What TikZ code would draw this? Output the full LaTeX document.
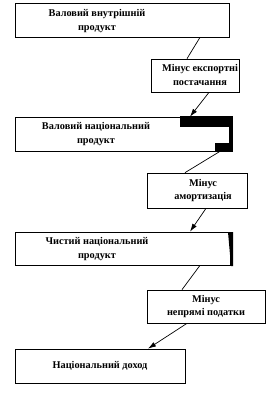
\documentclass[tikz,border=0pt]{standalone}
\usepackage{fontspec}
\setmainfont{Liberation Serif}
\usetikzlibrary{arrows.meta}
\begin{document}
\begin{tikzpicture}[x=1pt,y=-1pt,
  box/.style={draw,line width=0.7pt,inner sep=0pt,rectangle},
  lbl/.style={font=\bfseries\fontsize{10.3}{13.5}\selectfont,align=center,inner sep=0pt},
  conn/.style={line width=0.7pt},
  arr/.style={line width=0.7pt,-{Latex[length=8pt,width=5pt]}}]
\useasboundingbox[fill=white] (0,0) rectangle (276,393);
% boxes
\node[box,minimum width=214pt,minimum height=34pt] (b1) at (122,20) {};
\node[box,minimum width=88pt,minimum height=33pt] (b2) at (195,75.5) {};
\node[box,minimum width=215pt,minimum height=34pt] (b3) at (122.5,134) {};
\node[box,minimum width=100pt,minimum height=35pt] (b4) at (197,190.5) {};
\node[box,minimum width=215pt,minimum height=33pt] (b5) at (122.5,248.5) {};
\node[box,minimum width=118pt,minimum height=33pt] (b6) at (206,306.5) {};
\node[box,minimum width=170pt,minimum height=34pt] (b7) at (100,366) {};
% dark scan marks
\fill (180,116) rectangle (233,127);
\fill (229,127) rectangle (233,151);
\fill (215,143) rectangle (233,152);
\fill (228,232) -- (233,232) -- (233,266) -- (231,266) -- cycle;
% labels
\node[lbl] (t1) at (97,21) {Валовий внутрішній\\продукт};
\node[lbl] (t2) at (200,75) {Мінус експортні\\постачання};
\node[lbl] (t3) at (96,134) {Валовий національний\\продукт};
\node[lbl] (t4) at (203,190.5) {Мінус\\амортизація};
\node[lbl] (t5) at (97,249) {Чистий національний\\продукт};
\node[lbl] (t6) at (206,306.5) {Мінус\\непрямі податки};
\node[lbl] (t7) at (100,366) {Національний доход};
% connectors
\draw[conn] ([xshift=78pt]b1.south) -- ([xshift=-8pt]b2.north);
\draw[arr] ([xshift=14pt]b2.south) -- ([xshift=67.5pt]b3.north);
\draw[conn] ([xshift=97.5pt]b3.south) -- ([xshift=-12pt]b4.north);
\draw[arr] ([xshift=9pt]b4.south) -- ([xshift=67.5pt]b5.north);
\draw[conn] ([xshift=77.5pt]b5.south) -- ([xshift=-24pt]b6.north);
\draw[arr] ([xshift=-19pt]b6.south) -- ([xshift=48pt]b7.north);
\end{tikzpicture}
\end{document}
